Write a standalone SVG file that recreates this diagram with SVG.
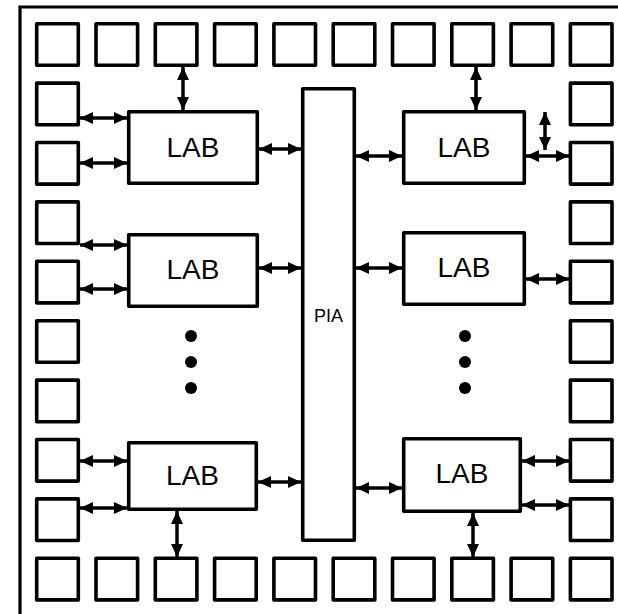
<svg xmlns="http://www.w3.org/2000/svg" width="618" height="614" viewBox="0 0 618 614">
<defs>
<style>
.frame{fill:none;stroke:#000;stroke-width:3.2}
.io{fill:#fff;stroke:#000;stroke-width:3.6;stroke-linejoin:round}
.blk{fill:#fff;stroke:#000;stroke-width:3.6;stroke-linejoin:round}
.lbl{font-family:"Liberation Sans",Arial,sans-serif;font-size:28px;fill:#000;text-anchor:middle}
.pia{font-family:"Liberation Sans",Arial,sans-serif;font-size:18px;fill:#000;text-anchor:middle}
.arr{stroke:#000;stroke-width:3.5;fill:none;marker-start:url(#ah);marker-end:url(#ah)}
.dot{fill:#000}
</style>
<marker id="ah" markerUnits="userSpaceOnUse" markerWidth="13" markerHeight="13" viewBox="0 0 13 13" refX="13" refY="6.5" orient="auto-start-reverse">
<path d="M0,0.5 L13,6.5 L0,12.5 z" fill="#000"/>
</marker>
</defs>
<rect width="618" height="614" fill="#fff"/>
<path class="frame" d="M20,614 L20,7 L618,7"/>

<g id="io-top">
<rect class="io" x="36.7" y="23.7" width="41.6" height="41.6"/>
<rect class="io" x="96" y="23.7" width="41.6" height="41.6"/>
<rect class="io" x="155.3" y="23.7" width="41.6" height="41.6"/>
<rect class="io" x="214.6" y="23.7" width="41.6" height="41.6"/>
<rect class="io" x="273.9" y="23.7" width="41.6" height="41.6"/>
<rect class="io" x="333.2" y="23.7" width="41.6" height="41.6"/>
<rect class="io" x="392.5" y="23.7" width="41.6" height="41.6"/>
<rect class="io" x="451.8" y="23.7" width="41.6" height="41.6"/>
<rect class="io" x="511.1" y="23.7" width="41.6" height="41.6"/>
<rect class="io" x="570.4" y="23.7" width="41.6" height="41.6"/>
</g>
<g id="io-bottom">
<rect class="io" x="36.7" y="558.3" width="41.6" height="41.6"/>
<rect class="io" x="96" y="558.3" width="41.6" height="41.6"/>
<rect class="io" x="155.3" y="558.3" width="41.6" height="41.6"/>
<rect class="io" x="214.6" y="558.3" width="41.6" height="41.6"/>
<rect class="io" x="273.9" y="558.3" width="41.6" height="41.6"/>
<rect class="io" x="333.2" y="558.3" width="41.6" height="41.6"/>
<rect class="io" x="392.5" y="558.3" width="41.6" height="41.6"/>
<rect class="io" x="451.8" y="558.3" width="41.6" height="41.6"/>
<rect class="io" x="511.1" y="558.3" width="41.6" height="41.6"/>
<rect class="io" x="570.4" y="558.3" width="41.6" height="41.6"/>
</g>
<g id="io-left">
<rect class="io" x="36.7" y="83.1" width="41.6" height="41.6"/>
<rect class="io" x="36.7" y="142.5" width="41.6" height="41.6"/>
<rect class="io" x="36.7" y="201.9" width="41.6" height="41.6"/>
<rect class="io" x="36.7" y="261.3" width="41.6" height="41.6"/>
<rect class="io" x="36.7" y="320.7" width="41.6" height="41.6"/>
<rect class="io" x="36.7" y="380.1" width="41.6" height="41.6"/>
<rect class="io" x="36.7" y="439.5" width="41.6" height="41.6"/>
<rect class="io" x="36.7" y="498.9" width="41.6" height="41.6"/>
</g>
<g id="io-right">
<rect class="io" x="570.4" y="83.1" width="41.6" height="41.6"/>
<rect class="io" x="570.4" y="142.5" width="41.6" height="41.6"/>
<rect class="io" x="570.4" y="201.9" width="41.6" height="41.6"/>
<rect class="io" x="570.4" y="261.3" width="41.6" height="41.6"/>
<rect class="io" x="570.4" y="320.7" width="41.6" height="41.6"/>
<rect class="io" x="570.4" y="380.1" width="41.6" height="41.6"/>
<rect class="io" x="570.4" y="439.5" width="41.6" height="41.6"/>
<rect class="io" x="570.4" y="498.9" width="41.6" height="41.6"/>
</g>

<g id="pia">
<rect class="blk" x="302.7" y="88.7" width="51.6" height="451.6"/>
<text class="pia" x="328.5" y="322">PIA</text>
</g>

<g id="lab-tl">
<rect class="blk" x="128.7" y="111.7" width="128.6" height="71.6"/>
<text class="lbl" x="193" y="157">LAB</text>
</g>
<g id="lab-ml">
<rect class="blk" x="128.7" y="234.7" width="128.6" height="71.6"/>
<text class="lbl" x="193" y="279">LAB</text>
</g>
<g id="lab-bl">
<rect class="blk" x="128.7" y="442.7" width="127.6" height="66.6"/>
<text class="lbl" x="192.5" y="485">LAB</text>
</g>
<g id="lab-tr">
<rect class="blk" x="403.7" y="111.7" width="120.6" height="71.6"/>
<text class="lbl" x="464" y="157">LAB</text>
</g>
<g id="lab-mr">
<rect class="blk" x="403.7" y="232.7" width="120.6" height="71.6"/>
<text class="lbl" x="464" y="277">LAB</text>
</g>
<g id="lab-br">
<rect class="blk" x="403.7" y="438.7" width="116.6" height="72.6"/>
<text class="lbl" x="462" y="483">LAB</text>
</g>

<g id="ellipsis">
<circle class="dot" cx="191" cy="336" r="6"/>
<circle class="dot" cx="191" cy="362" r="6"/>
<circle class="dot" cx="191" cy="388" r="6"/>
<circle class="dot" cx="465" cy="336" r="6"/>
<circle class="dot" cx="465" cy="362" r="6"/>
<circle class="dot" cx="465" cy="388" r="6"/>
</g>

<g id="connectors">
<line class="arr" x1="183" y1="67" x2="183" y2="110"/>
<line class="arr" x1="80" y1="118" x2="127" y2="118"/>
<line class="arr" x1="80" y1="163" x2="127" y2="163"/>
<line class="arr" x1="259" y1="149" x2="301" y2="149"/>
<line class="arr" x1="356" y1="156" x2="402" y2="156"/>
<line class="arr" x1="476" y1="67" x2="476" y2="110"/>
<line class="arr" x1="526" y1="156" x2="569" y2="156"/>
<line class="arr" x1="545" y1="112" x2="545" y2="150"/>
<line class="arr" x1="80" y1="245" x2="127" y2="245"/>
<line class="arr" x1="80" y1="289" x2="127" y2="289"/>
<line class="arr" x1="259" y1="268" x2="301" y2="268"/>
<line class="arr" x1="356" y1="268" x2="402" y2="268"/>
<line class="arr" x1="526" y1="279" x2="569" y2="279"/>
<line class="arr" x1="80" y1="461" x2="127" y2="461"/>
<line class="arr" x1="80" y1="508" x2="127" y2="508"/>
<line class="arr" x1="177" y1="511" x2="177" y2="557"/>
<line class="arr" x1="258" y1="482" x2="301" y2="482"/>
<line class="arr" x1="356" y1="488" x2="402" y2="488"/>
<line class="arr" x1="522" y1="461" x2="569" y2="461"/>
<line class="arr" x1="522" y1="505" x2="569" y2="505"/>
<line class="arr" x1="473" y1="513" x2="473" y2="557"/>
</g>
</svg>
